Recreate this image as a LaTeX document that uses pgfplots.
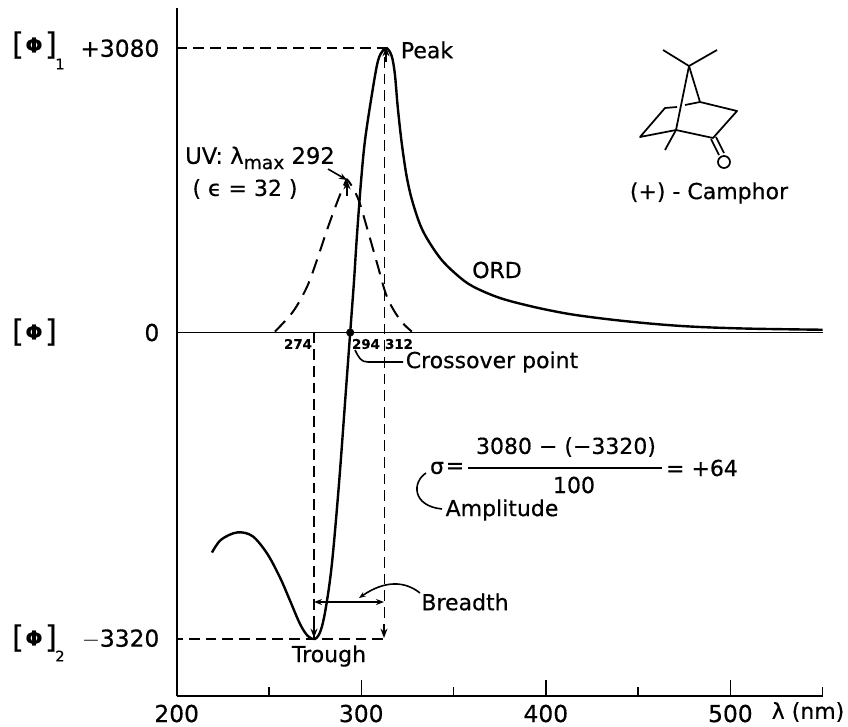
\documentclass[border=0pt]{standalone}
\usepackage{pgfplots}
\pgfplotsset{compat=1.18}
\usepackage{fontspec}
\setmainfont{DejaVu Sans}[RawFeature={embolden=0.5}]
\usetikzlibrary{arrows.meta}
\begin{document}
\begin{tikzpicture}
\path[use as bounding box] (-132.525pt,-22.5pt) rectangle (503.475pt,522pt);
\begin{axis}[
  at={(0,0)},anchor=south west,
  scale only axis,width=484.5pt,height=516pt,
  xmin=200,xmax=550,ymin=-3938,ymax=3516,
  axis lines=left,axis line style={line width=1.4pt,-},
  xtick={200,300,400,500},
  minor xtick={250,350,450,550},
  tick style={black,line width=1.1pt},
  xtick align=inside,
  major tick length=12pt,minor tick length=7pt,
  ytick={-3320,0,3080},yticklabels={$-$3320,0,+3080},
  ytick style={draw=none},
  /pgf/number format/assume math mode=true,
  /pgf/number format/set thousands separator={},
  tick label style={font=\fontsize{17.5}{17.5}\selectfont},
  yticklabel style={xshift=-3.5pt},
  xticklabel style={yshift=-3pt},
  clip=false
]
\addplot[black,line width=1.8pt,smooth,tension=0.55] coordinates {
(219.1,-2384)(224,-2245)(232.7,-2166)(241,-2205)(249,-2395)(256,-2656)
(261.3,-2900)(266.8,-3157)(271,-3287)(274.9,-3320)(278,-3230)(280.8,-2982)
(284.1,-2504)(288,-1620)(292,-540)(294,0)(296,540)(297.6,1034)(299.8,1620)
(302,2079)(305.8,2585)(309,2940)(311.7,3055)(313.9,3080)
(316.5,2994)(318.2,2800)(319.8,2434)(322,2040)(324.7,1680)(328,1400)(333.4,1100)
(342.6,810)(351.8,625)(360.4,500)(375,375)(392.9,280)(411.4,205)(429.2,155)
(447.1,115)(465.5,82)(483.4,60)(510.5,42)(550,30)};
\addplot[black,line width=1.5pt,dash pattern=on 11pt off 6.5pt,smooth,tension=0.55] coordinates {
(253.2,10)(263,226)(270.6,495)(276,786)(281.4,1109)(286.9,1411)(291.1,1615)(292.8,1648)
(298.2,1454)(303,1142)(308.5,754)(313.9,388)(320.9,140)(327.4,10)};
\addplot[black,line width=1.2pt] coordinates {(200,0)(550,0)};
\addplot[black,line width=1.2pt,dash pattern=on 8pt off 4.5pt] coordinates {(200,3080)(312.6,3080)(312.6,-3320)(200,-3320)};
\addplot[black,line width=1.2pt,dash pattern=on 8pt off 4.5pt] coordinates {(274.3,0)(274.3,-3320)};
\addplot[only marks,mark=*,mark size=2.8pt,black] coordinates {(294,0)};
\end{axis}
\begin{scope}[shift={(-132.525pt,522pt)},x=0.75pt,y=-0.75pt,
  lab/.style={font=\fontsize{16.5}{16.5}\selectfont,inner sep=0pt},
  tiny/.style={font=\fontsize{10}{10}\selectfont\bfseries,inner sep=0pt},
  br/.style={font=\fontsize{23}{23}\selectfont,inner sep=0pt},
  phi/.style={font=\fontsize{15}{15}\selectfont\bfseries,inner sep=0pt},
  sub/.style={font=\fontsize{11}{11}\selectfont,inner sep=0pt}]
% phi labels
\foreach \y in {45,332,638}{
  \node[br] at (18,\y) {[};
  \node[phi] at (34,\y) {Φ};
  \node[br] at (51,\y) {]};
}
\node[sub] at (60,64) {1};
\node[sub] at (60,656) {2};
% labels
\node[lab] at (427,50) {Peak};
\node[lab] at (497,270) {ORD};
\node[lab,font=\fontsize{17}{17}\selectfont] at (260,158) {UV: λ\raisebox{-4pt}{\fontsize{14}{14}\selectfont max} 292};
\node[lab] at (245,189) {( ϵ = 32 )};
\node[tiny] at (298,344) {274};
\node[tiny] at (366,344) {294};
\node[tiny] at (399,344) {312};
\node[lab] at (492,362) {Crossover point};
\node[lab] at (709,193) {(+) - Camphor};
\node[lab] at (566,447) {3080 − (−3320)};
\node[lab] at (574,485) {100};
\node[lab] at (437,468) {σ};
\node[lab] at (455,468) {=};
\node[lab] at (702,468) {= +64};
\node[lab] at (502,510) {Amplitude};
\node[lab] at (465,602) {Breadth};
\node[lab] at (329,656) {Trough};
\node[lab] at (808,712) {λ (nm)};
% fraction bar
\draw[line width=1.2pt] (468,468) -- (662,468);
% leaders
\draw[line width=1.2pt] (355,350) .. controls (359,358) and (361,362) .. (368,362) -- (403,362);
\draw[line width=1.2pt] (426,473) .. controls (412,482) and (412,506) .. (442,509);
\draw[line width=1.2pt,-{Stealth[length=5pt]}] (420,593) .. controls (405,581) and (385,580) .. (359,598);
\draw[line width=1.2pt,{Stealth[length=6pt]}-{Stealth[length=6pt]}] (314,602) -- (384,602);
\draw[line width=1.2pt,-{Stealth[length=6pt]}] (328,169) -- (347,180);
\draw[line width=1.2pt,-{Stealth[length=7pt]}] (347,196) -- (347,180);
\draw[line width=1.2pt,-{Stealth[length=7pt]}] (386,62) -- (386,47);
\draw[line width=1.2pt,-{Stealth[length=7pt]}] (314,624) -- (314,638);
\draw[line width=1.2pt,-{Stealth[length=7pt]}] (384,624) -- (384,638);
% camphor
\begin{scope}[line width=1.3pt,line join=round]
\draw (663,50) -- (689,66) -- (717,50);
\draw (689,66) -- (676,130);
\draw (689,66) -- (700,102) -- (737,111) -- (713,138) -- (676,130) -- (640,137) -- (665,108) -- (677,107);
\draw (685,105) -- (700,102);
\draw (676,130) -- (665,150);
\draw (711,139) -- (719,155);
\draw (716,137) -- (724,153);
\draw (724,162) circle (6);
\end{scope}
\end{scope}
\end{tikzpicture}
\end{document}
